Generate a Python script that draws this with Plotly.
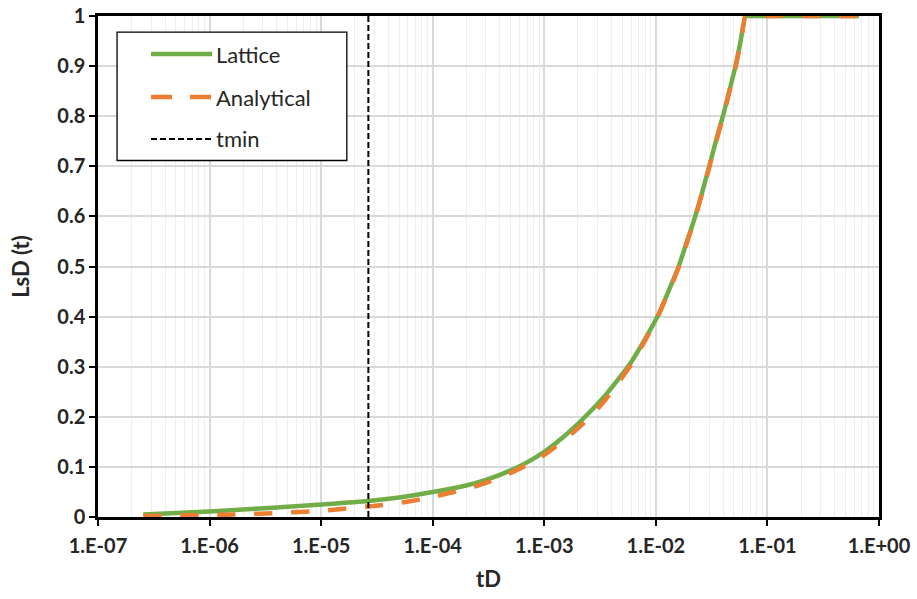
import plotly.graph_objects as go

# Dimensionless time and LsD(t) for the lattice simulation
lattice_t = [2.55e-7, 5e-7, 1e-6, 2e-6, 4e-6, 1e-5, 2.65e-5, 5e-5, 1e-4, 2e-4, 3e-4,
             5e-4, 7e-4, 1e-3, 1.4e-3, 2e-3, 2.6e-3, 3.5e-3, 4.5e-3, 6.04e-3, 8e-3,
             1.05e-2, 1.3e-2, 1.6e-2, 1.9e-2, 2.24e-2, 2.6e-2, 3.01e-2, 3.45e-2,
             3.99e-2, 4.55e-2, 5.18e-2, 5.75e-2, 6.35e-2, 6.5e-2, 0.1, 0.2, 0.4, 0.66]
lattice_L = [0.005, 0.008, 0.011, 0.015, 0.019, 0.025, 0.032, 0.039, 0.050, 0.063, 0.074,
             0.093, 0.109, 0.130, 0.155, 0.186, 0.211, 0.242, 0.272, 0.310, 0.355,
             0.403, 0.451, 0.500, 0.550, 0.598, 0.648, 0.700, 0.750,
             0.800, 0.850, 0.900, 0.950, 1.0, 1.0, 1.0, 1.0, 1.0, 1.0]

# Analytical solution
analytical_t = [2.55e-7, 5e-7, 1e-6, 2e-6, 4e-6, 1e-5, 2.65e-5, 5e-5, 1e-4, 2e-4, 3e-4,
                5e-4, 7e-4, 1e-3, 1.4e-3, 2e-3, 2.6e-3, 3.5e-3, 4.5e-3, 6.04e-3, 8e-3,
                1.05e-2, 1.3e-2, 1.6e-2, 1.9e-2, 2.24e-2, 2.6e-2, 3.01e-2, 3.45e-2,
                3.99e-2, 4.55e-2, 5.18e-2, 5.75e-2, 6.35e-2, 6.5e-2, 0.1, 0.2, 0.4, 0.66]
analytical_L = [0.002, 0.003, 0.004, 0.0055, 0.008, 0.0125, 0.021, 0.028, 0.040, 0.056, 0.068,
                0.088, 0.104, 0.124, 0.148, 0.177, 0.201, 0.233, 0.265, 0.305, 0.352,
                0.402, 0.449, 0.498, 0.548, 0.596, 0.646, 0.698, 0.748,
                0.798, 0.848, 0.898, 0.948, 1.0, 1.0, 1.0, 1.0, 1.0, 1.0]

# Minimum valid time
tmin = 2.65e-5
tmin_y = [0, 1]

x_tickvals = [1e-7, 1e-6, 1e-5, 1e-4, 1e-3, 1e-2, 1e-1, 1e0]
x_ticktext = ["1.E-07", "1.E-06", "1.E-05", "1.E-04", "1.E-03", "1.E-02", "1.E-01", "1.E+00"]
minor_vals = [k * 10.0 ** e for e in range(-7, 0) for k in range(2, 10)]

GREEN = "#70AD47"
ORANGE = "#ED7D31"
FONT = "Lato"
TXT = "#262626"

fig = go.Figure()
fig.add_trace(go.Scatter(x=lattice_t, y=lattice_L, mode="lines", name="Lattice",
                         line=dict(color=GREEN, width=4.5, shape="spline", smoothing=0.6)))
fig.add_trace(go.Scatter(x=analytical_t, y=analytical_L, mode="lines", name="Analytical",
                         line=dict(color=ORANGE, width=4.5, dash="18px,19px",
                                   shape="spline", smoothing=0.6)))
fig.add_trace(go.Scatter(x=[tmin, tmin], y=tmin_y, mode="lines", name="tmin",
                         line=dict(color="black", width=2, dash="6px,3px")))

# Legend box drawn in paper coordinates
legend_items = [("Lattice", GREEN, 4.5, "solid", 0.924),
                ("Analytical", ORANGE, 4.5, "21px,18px", 0.8383),
                ("tmin", "black", 2, "6px,3px", 0.7545)]
fig.add_shape(type="rect", xref="paper", yref="paper", x0=0.0244, x1=0.3186,
              y0=0.7116, y1=0.968, line=dict(color="black", width=1.3), fillcolor="white")
for label, color, w, dash, yy in legend_items:
    fig.add_shape(type="line", xref="paper", yref="paper", x0=0.0679, x1=0.1462,
                  y0=yy, y1=yy, line=dict(color=color, width=w, dash=dash))
    fig.add_annotation(xref="paper", yref="paper", x=0.1490, y=yy, text=label,
                       showarrow=False, xanchor="left", yanchor="middle",
                       font=dict(family=FONT, size=22, color=TXT))

fig.update_xaxes(type="log", range=[-7, 0], tickmode="array", tickvals=x_tickvals,
                 ticktext=x_ticktext, ticks="outside", ticklen=6, tickwidth=2,
                 tickcolor="black", showline=True, linecolor="black", linewidth=2.5,
                 mirror=True, showgrid=True, gridcolor="#d9d9d9", gridwidth=1.5,
                 minor=dict(tickmode="array", tickvals=minor_vals, showgrid=True,
                            gridcolor="#eeeeee", gridwidth=1.2, ticks=""),
                 tickfont=dict(family=FONT, size=20, color=TXT, weight="bold"),
                 ticklabelstandoff=3,
                 title=dict(text="tD", font=dict(family=FONT, size=22, color=TXT, weight="bold"),
                            standoff=16),
                 zeroline=False, automargin=False)
fig.update_yaxes(range=[0, 1], dtick=0.1, ticks="outside", ticklen=6, tickwidth=2,
                 tickcolor="black", showline=True, linecolor="black", linewidth=2.5,
                 mirror=True, showgrid=True, gridcolor="#d9d9d9", gridwidth=1.5,
                 tickfont=dict(family=FONT, size=20, color=TXT, weight="bold"),
                 title=dict(text="LsD (t)", font=dict(family=FONT, size=22, color=TXT, weight="bold"),
                            standoff=22),
                 zeroline=False, tickformat="~g", automargin=False)

fig.update_layout(width=917, height=599, showlegend=False,
                  margin=dict(l=98, r=38, t=16, b=82),
                  paper_bgcolor="white", plot_bgcolor="white")

fig.write_html("out.html")
